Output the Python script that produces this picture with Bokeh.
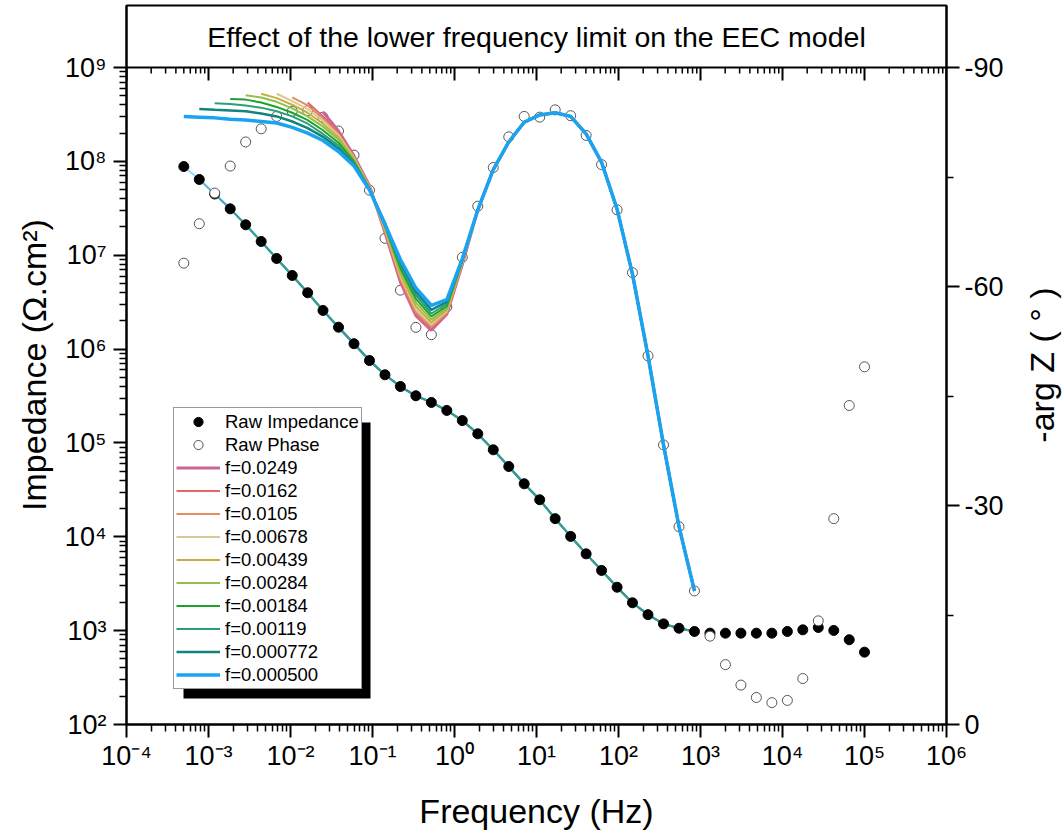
import math
from bokeh.plotting import figure
from bokeh.models import (Range1d, LinearAxis, FixedTicker, CustomJSTickFormatter,
                          Legend, LegendItem, BoxAnnotation, Label, LinearScale, Span)
from bokeh.layouts import row
from bokeh.embed import file_html
from bokeh.resources import INLINE

FONT = "Liberation Sans"

# ---------------- data ----------------
freq = [5.00e-4, 7.72e-4, 1.19e-3, 1.84e-3, 2.84e-3, 4.39e-3, 6.78e-3, 1.05e-2, 1.62e-2, 2.49e-2,
        3.85e-2, 5.95e-2, 9.19e-2, 0.142, 0.219, 0.338, 0.522, 0.806, 1.245, 1.923,
        2.97, 4.59, 7.08, 10.94, 16.9, 26.1, 40.3, 62.2, 96.1, 148.0,
        229.0, 354.0, 547.0, 844.0, 1304.0, 2014.0, 3110.0, 4800.0, 7420.0, 11460.0,
        17690.0, 27320.0, 42200.0, 65150.0, 1.0e5]

impedance = [8.81e7, 6.41e7, 4.49e7, 3.12e7, 2.11e7, 1.40e7, 9.23e6, 6.08e6, 3.98e6, 2.58e6,
             1.71e6, 1.14e6, 7.55e5, 5.32e5, 3.99e5, 3.18e5, 2.70e5, 2.22e5, 1.73e5, 1.25e5,
             8.45e4, 5.61e4, 3.67e4, 2.48e4, 1.56e4, 1.01e4, 6.58e3, 4.38e3, 2.90e3, 1.98e3,
             1.48e3, 1.18e3, 1.06e3, 980, 940, 940, 940, 940, 940, 980,
             1020, 1080, 1005, 800, 590]

phase = [-63.2, -68.6, -72.8, -76.5, -79.8, -81.6, -83.3, -84.0, -84.1, -83.2,
         -81.3, -78.0, -73.2, -66.6, -59.5, -54.4, -53.4, -57.2, -64.0, -71.0,
         -76.3, -80.5, -83.3, -83.2, -84.2, -83.4, -80.7, -76.7, -70.5, -61.9,
         -50.5, -38.3, -27.1, -18.3, -12.1, -8.2, -5.4, -3.7, -3.0, -3.3,
         -6.3, -14.2, -28.2, -43.7, -49.0]

fit_labels = ["f=0.0249", "f=0.0162", "f=0.0105", "f=0.00678", "f=0.00439",
              "f=0.00284", "f=0.00184", "f=0.00119", "f=0.000772", "f=0.000500"]
fit_start_index = [9, 8, 7, 6, 5, 4, 3, 2, 1, 0]
fit_colors = ["#c9669e", "#e2676a", "#e0905e", "#dcc79a", "#c2b13f",
              "#90c048", "#1fa22c", "#2a9d7a", "#11847e", "#1aa3f0"]
fit_widths = [3.0, 2.0, 2.0, 2.0, 2.0, 2.0, 2.0, 2.0, 2.5, 3.5]

# phase fits, low-frequency part (from each start up to 1.245 Hz)
phase_fit_0249 = [-83.9, -81.3, -77.9, -73.8, -67.4, -60.6, -56.0, -54.0, -56.2, -63.0]
phase_fit_0162 = [-85.2, -83.3, -81.1, -77.8, -73.7, -67.5, -60.8, -56.2, -54.2, -56.3, -63.1]
phase_fit_0105 = [-85.9, -84.8, -83.0, -80.9, -77.7, -73.6, -67.6, -61.1, -56.5, -54.5, -56.4, -63.2]
phase_fit_00678 = [-86.4, -85.4, -84.3, -82.7, -80.7, -77.6, -73.6, -67.8, -61.4, -56.9, -54.8, -56.6, -63.3]
phase_fit_00439 = [-86.4, -85.8, -84.9, -83.8, -82.3, -80.4, -77.5, -73.5, -67.9, -61.7, -57.3, -55.1,
                   -56.8, -63.3]
phase_fit_00284 = [-86.2, -85.9, -85.3, -84.4, -83.3, -81.9, -80.1, -77.3, -73.5, -68.1, -62.1, -57.8,
                   -55.5, -57.0, -63.4]
phase_fit_00184 = [-85.7, -85.6, -85.2, -84.6, -83.8, -82.8, -81.4, -79.7, -77.1, -73.4, -68.3, -62.5,
                   -58.3, -55.9, -57.3, -63.5]
phase_fit_00119 = [-85.1, -85.0, -84.8, -84.5, -84.0, -83.3, -82.3, -80.9, -79.3, -76.9, -73.4, -68.5,
                   -62.9, -58.8, -56.3, -57.6, -63.6]
phase_fit_000772 = [-84.3, -84.2, -84.1, -84.0, -83.7, -83.3, -82.6, -81.7, -80.5, -78.9, -76.7, -73.3,
                    -68.7, -63.4, -59.3, -56.8, -57.9, -63.7]
phase_fit_000500 = [-83.3, -83.2, -83.1, -82.9, -82.8, -82.6, -82.4, -81.8, -81.0, -80.0, -78.5, -76.5,
                    -73.2, -68.5, -63.7, -59.8, -57.4, -58.2, -63.8]
# common high-frequency part of all phase fits (1.92 Hz ... 844 Hz)
phase_fit_tail = [-70.5, -76.0, -79.8, -82.5, -83.5, -83.8, -83.3, -80.9, -77.0, -70.6,
                  -61.7, -50.5, -38.3, -27.1, -18.3]
phase_fit_heads = [phase_fit_0249, phase_fit_0162, phase_fit_0105, phase_fit_00678, phase_fit_00439,
                   phase_fit_00284, phase_fit_00184, phase_fit_00119, phase_fit_000772, phase_fit_000500]

# impedance fit (identical for all fits where defined, 5e-4 ... 844 Hz)
impedance_fit = [8.81e7, 6.41e7, 4.49e7, 3.12e7, 2.11e7, 1.40e7, 9.23e6, 6.08e6, 3.98e6, 2.58e6,
                 1.71e6, 1.14e6, 7.55e5, 5.32e5, 3.99e5, 3.18e5, 2.70e5, 2.22e5, 1.73e5, 1.25e5,
                 8.45e4, 5.61e4, 3.67e4, 2.48e4, 1.56e4, 1.01e4, 6.58e3, 4.38e3, 2.90e3, 1.98e3,
                 1.48e3, 1.18e3, 1.06e3, 980]

x_decades = list(range(-4, 7))
y_decades = list(range(2, 10))
phase_ticks = [-90, -60, -30, 0]
phase_minor = [-75, -45, -15]
title_text = "Effect of the lower frequency limit on the EEC model"
x_title = "Frequency (Hz)"
y_title = "Impedance (\u03a9.cm\u00b2)"
y2_title = "-arg Z ( \u00b0 )"

# ---------------- layout constants ----------------
FW = 820            # frame width
PH = 657            # height of the data area (10^2 .. 10^9)
TITLE_H = 62        # title box height on top of the data area
FH = PH + TITLE_H   # total frame height (title box shares the axes' spines)
TB, BB = 5, 112
LEFT_W, RIGHT_W = 55, 57          # side strips holding the rotated axis titles
LB, RB = 126 - LEFT_W, 60

y_top = 10 ** (y_decades[-1] + TITLE_H * (y_decades[-1] - y_decades[0]) / PH)
phase_top = phase_ticks[0] * FH / PH

sup_js = """
const m = {"-":"\\u207B","0":"\\u2070","1":"\\u00B9","2":"\\u00B2","3":"\\u00B3","4":"\\u2074",
           "5":"\\u2075","6":"\\u2076","7":"\\u2077","8":"\\u2078","9":"\\u2079"};
const e = Math.round(Math.log10(tick));
return "10" + String(e).split("").map(c => m[c]).join("");
"""

def log_ticker(decades):
    majors = [10.0 ** d for d in decades]
    minors = [m * 10.0 ** d for d in decades[:-1] for m in range(2, 10)]
    return FixedTicker(ticks=majors, minor_ticks=minors)

p = figure(x_axis_type="log", y_axis_type="log",
           x_range=Range1d(10.0 ** x_decades[0], 10.0 ** x_decades[-1]),
           y_range=Range1d(10.0 ** y_decades[0], y_top),
           frame_width=FW, frame_height=FH, min_border_left=LB, min_border_right=RB,
           min_border_top=TB, min_border_bottom=BB,
           toolbar_location=None, output_backend="svg")
p.grid.visible = False
p.outline_line_color = "black"
p.outline_line_width = 2
p.extra_y_ranges = {"phase": Range1d(0, phase_top)}
p.extra_y_scales = {"phase": LinearScale()}

def style_axis(ax):
    ax.axis_line_width = 2
    ax.major_tick_line_width = 2
    ax.minor_tick_line_width = 1.5
    ax.major_tick_out = 13
    ax.major_tick_in = 0
    ax.minor_tick_out = 7
    ax.minor_tick_in = 0
    ax.major_label_text_font = FONT
    ax.major_label_text_font_size = "27px"
    ax.major_label_text_color = "black"
    ax.axis_label_text_font = FONT
    ax.axis_label_text_font_size = "34px"
    ax.axis_label_text_font_style = "normal"
    ax.axis_label_text_color = "black"

xa = p.xaxis[0]
xa.ticker = log_ticker(x_decades)
xa.formatter = CustomJSTickFormatter(code=sup_js)
xa.axis_label = x_title
style_axis(xa)
xa.major_label_standoff = 3
xa.axis_label_standoff = 18

ya = p.yaxis[0]
ya.ticker = log_ticker(y_decades)
ya.formatter = CustomJSTickFormatter(code=sup_js)
style_axis(ya)
ya.major_label_standoff = 7

ra = LinearAxis(y_range_name="phase",
                ticker=FixedTicker(ticks=phase_ticks, minor_ticks=phase_minor),
                formatter=CustomJSTickFormatter(code="return tick == 0 ? '0' : '-' + Math.abs(tick);"))
style_axis(ra)
ra.major_label_standoff = 5
p.add_layout(ra, "right")

# top spine of the data area (= bottom of the title box) with inward ticks
top_y = 10.0 ** y_decades[-1]
p.add_layout(Span(location=top_y, dimension="width", line_color="black", line_width=2))
major_x = [10.0 ** d for d in x_decades]
minor_x = [m * 10.0 ** d for d in x_decades[:-1] for m in range(2, 10)]
p.ray(x=major_x, y=[top_y] * len(major_x), length=13, length_units="screen",
      angle=-math.pi / 2, line_color="black", line_width=2)
p.ray(x=minor_x, y=[top_y] * len(minor_x), length=6, length_units="screen",
      angle=-math.pi / 2, line_color="black", line_width=1.5)

# title text inside the title box
p.add_layout(Label(x=FW / 2, y=PH + TITLE_H / 2, x_units="screen", y_units="screen",
                   text=title_text, text_font=FONT, text_font_size="28.5px",
                   text_align="center", text_baseline="middle", text_color="black"))

# impedance fits (semi transparent, overlapping)
for lab, s, col, w in zip(fit_labels, fit_start_index, fit_colors, fit_widths):
    p.line(freq[s:34], impedance_fit[s:], line_color=col, line_width=2, line_alpha=0.45)

r_imp = p.scatter(freq, impedance, marker="circle", size=10, fill_color="black", line_color="black")
r_ph = p.scatter(freq, phase, marker="circle", size=10, fill_color="white", line_color="#555555",
                 line_width=1, y_range_name="phase")

fit_renderers = []
for lab, s, col, w, head in zip(fit_labels, fit_start_index, fit_colors, fit_widths, phase_fit_heads):
    ys = head + phase_fit_tail
    r = p.line(freq[s:34], ys, line_color=col, line_width=w, y_range_name="phase")
    fit_renderers.append(r)

# legend shadow and legend
p.add_layout(BoxAnnotation(left=57, right=244, bottom=26, top=302,
                           left_units="screen", right_units="screen",
                           bottom_units="screen", top_units="screen",
                           fill_color="black", fill_alpha=1.0, line_alpha=0))

items = [LegendItem(label="Raw Impedance", renderers=[r_imp]),
         LegendItem(label="Raw Phase", renderers=[r_ph])]
items += [LegendItem(label=lab, renderers=[r]) for lab, r in zip(fit_labels, fit_renderers)]
legend = Legend(items=items, location=(47, 35), padding=2, spacing=0, margin=0,
                label_text_font=FONT, label_text_font_size="18.5px", label_text_color="black",
                glyph_width=44, glyph_height=23, label_height=23, label_standoff=5,
                border_line_color="#333333", border_line_width=1,
                background_fill_color="white", background_fill_alpha=1.0)
p.add_layout(legend, "center")

# ---------------- side strips carrying the vertical axis titles ----------------
# same top/bottom borders and frame height as the main plot so the row does not shift anything
def side_title(text, width):
    f = figure(frame_width=1, frame_height=FH,
               min_border_left=width - 1, min_border_right=0,
               min_border_top=TB, min_border_bottom=BB,
               x_range=Range1d(0, 1), y_range=Range1d(0, 1), x_axis_location=None,
               toolbar_location=None, output_backend="svg")
    f.outline_line_color = None
    f.grid.visible = False
    ax = f.yaxis[0]
    ax.ticker = FixedTicker(ticks=[])
    ax.axis_line_alpha = 0
    ax.major_tick_out = 0
    ax.minor_tick_out = 0
    ax.major_tick_in = 0
    ax.minor_tick_in = 0
    ax.major_label_text_font_size = "0px"
    ax.major_label_standoff = 0
    ax.axis_label = text
    ax.axis_label_text_font = FONT
    ax.axis_label_text_font_size = "34px"
    ax.axis_label_text_font_style = "normal"
    ax.axis_label_text_color = "black"
    ax.axis_label_standoff = 2
    return f

left_strip = side_title(y_title, LEFT_W)
right_strip = side_title(y2_title, RIGHT_W)

layout = row(left_strip, p, right_strip, spacing=0)
with open("out.html", "w", encoding="utf-8") as fh:
    fh.write(file_html(layout, INLINE))
